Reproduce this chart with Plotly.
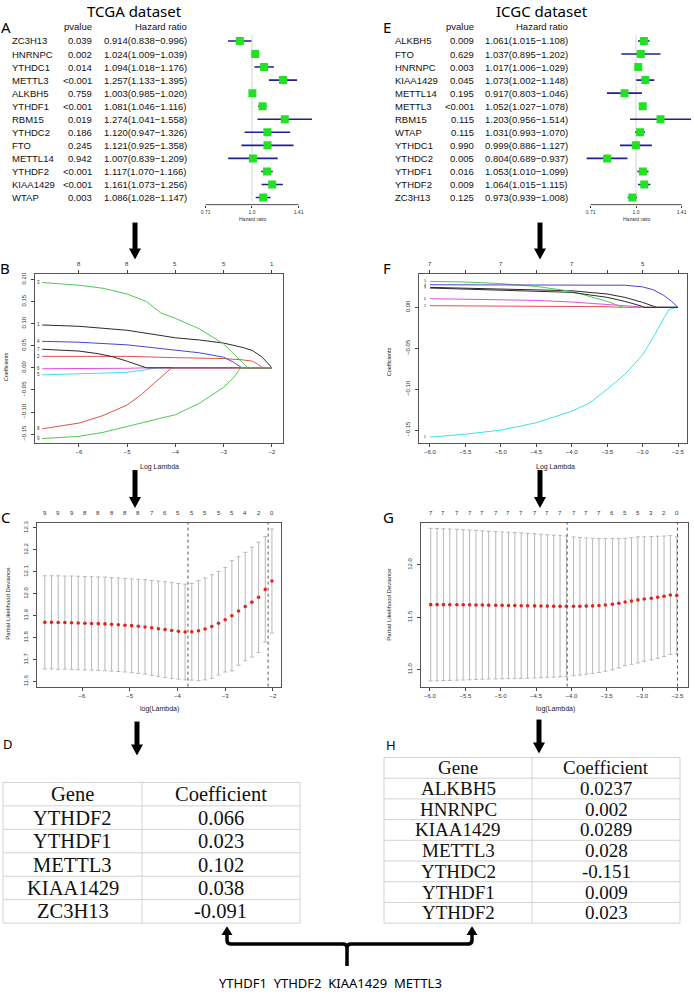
import plotly.graph_objects as go

# ================= DATA =================
# Panel A - TCGA univariate Cox
tcga_genes = ["ZC3H13", "HNRNPC", "YTHDC1", "METTL3", "ALKBH5", "YTHDF1", "RBM15",
              "YTHDC2", "FTO", "METTL14", "YTHDF2", "KIAA1429", "WTAP"]
tcga_p = ["0.039", "0.002", "0.014", "<0.001", "0.759", "<0.001", "0.019",
          "0.186", "0.245", "0.942", "<0.001", "<0.001", "0.003"]
tcga_hr = [0.914, 1.024, 1.094, 1.257, 1.003, 1.081, 1.274, 1.120, 1.121, 1.007, 1.117, 1.161, 1.086]
tcga_lo = [0.838, 1.009, 1.018, 1.133, 0.985, 1.046, 1.041, 0.947, 0.925, 0.839, 1.070, 1.073, 1.028]
tcga_hi = [0.996, 1.039, 1.176, 1.395, 1.020, 1.116, 1.558, 1.326, 1.358, 1.209, 1.166, 1.256, 1.147]

# Panel E - ICGC univariate Cox
icgc_genes = ["ALKBH5", "FTO", "HNRNPC", "KIAA1429", "METTL14", "METTL3", "RBM15",
              "WTAP", "YTHDC1", "YTHDC2", "YTHDF1", "YTHDF2", "ZC3H13"]
icgc_p = ["0.009", "0.629", "0.003", "0.045", "0.195", "<0.001", "0.115",
          "0.115", "0.990", "0.005", "0.016", "0.009", "0.125"]
icgc_hr = [1.061, 1.037, 1.017, 1.073, 0.917, 1.052, 1.203, 1.031, 0.999, 0.804, 1.053, 1.064, 0.973]
icgc_lo = [1.015, 0.895, 1.006, 1.002, 0.803, 1.027, 0.956, 0.993, 0.886, 0.689, 1.010, 1.015, 0.939]
icgc_hi = [1.108, 1.202, 1.029, 1.148, 1.046, 1.078, 1.514, 1.070, 1.127, 0.937, 1.099, 1.115, 1.008]

hr_ticks = [0.71, 1.0, 1.41]

# Panel B - TCGA LASSO coefficient paths (log lambda, coefficient)
b1_lam = [-6.76, -6.0, -5.0, -4.5, -4.0, -3.5, -3.0, -2.6, -2.4, -2.2, -2.1, -2.0]
b1_coef = [0.097, 0.094, 0.085, 0.077, 0.068, 0.063, 0.056, 0.046, 0.039, 0.024, 0.013, 0.0]
b2_lam = [-6.76, -5.0, -4.0, -3.0, -2.6, -2.4, -2.3, -2.19, -2.0]
b2_coef = [0.026, 0.026, 0.023, 0.021, 0.018, 0.015, 0.009, 0.0, 0.0]
b3_lam = [-6.76, -6.5, -6.0, -5.5, -5.0, -4.6, -4.3, -4.0, -3.5, -3.0, -2.75, -2.5, -2.0]
b3_coef = [0.193, 0.191, 0.187, 0.180, 0.167, 0.150, 0.124, 0.112, 0.088, 0.054, 0.028, 0.0, 0.0]
b4_lam = [-6.76, -6.0, -5.0, -4.5, -4.0, -3.5, -3.0, -2.8, -2.62, -2.0]
b4_coef = [0.060, 0.058, 0.052, 0.046, 0.041, 0.034, 0.024, 0.013, 0.0, 0.0]
b5_lam = [-6.76, -6.0, -5.0, -4.6, -4.4, -2.0]
b5_coef = [-0.016, -0.014, -0.010, -0.004, 0.0, 0.0]
b6_lam = [-6.76, -6.0, -5.0, -4.6, -2.0]
b6_coef = [-0.002, -0.002, -0.001, 0.0, 0.0]
b7_lam = [-6.76, -6.0, -5.6, -5.3, -5.0, -4.8, -4.6, -2.0]
b7_coef = [0.042, 0.038, 0.032, 0.025, 0.015, 0.007, 0.0, 0.0]
b8_lam = [-6.76, -6.5, -6.0, -5.5, -5.0, -4.7, -4.5, -4.3, -4.15, -4.08, -2.0]
b8_coef = [-0.138, -0.133, -0.125, -0.108, -0.084, -0.060, -0.041, -0.022, -0.006, 0.0, 0.0]
b9_lam = [-6.76, -6.0, -5.5, -5.0, -4.6, -4.3, -4.0, -3.5, -3.0, -2.8, -2.65, -2.0]
b9_coef = [-0.160, -0.155, -0.146, -0.133, -0.122, -0.115, -0.106, -0.080, -0.044, -0.023, 0.0, 0.0]
b_top_lam = [-6, -5, -4, -3, -2]
b_top_df = ["8", "8", "5", "5", "1"]

# Panel F - ICGC LASSO coefficient paths
f1_lam = [-6.0, -5.0, -4.5, -4.0, -3.5, -3.25, -3.0, -2.8, -2.5]
f1_coef = [0.0244, 0.0228, 0.0215, 0.0203, 0.0163, 0.0122, 0.0061, 0.0, 0.0]
f2_lam = [-6.0, -4.5, -4.0, -3.5, -3.3, -2.5]
f2_coef = [0.0020, 0.0018, 0.0015, 0.0008, 0.0, 0.0]
f3_lam = [-6.0, -5.5, -5.0, -4.5, -4.0, -3.75, -3.5, -3.35, -3.27, -2.5]
f3_coef = [0.0317, 0.0310, 0.0290, 0.0256, 0.0195, 0.0134, 0.0073, 0.0024, 0.0, 0.0]
f4_lam = [-6.0, -4.0, -3.5, -3.25, -3.0, -2.85, -2.7, -2.6, -2.5]
f4_coef = [0.0276, 0.0276, 0.0276, 0.0270, 0.0250, 0.0215, 0.0146, 0.0080, 0.0]
f5_lam = [-6.0, -5.5, -5.0, -4.5, -4.0, -3.75, -3.5, -3.25, -3.0, -2.85, -2.7, -2.62, -2.5]
f5_coef = [-0.1585, -0.155, -0.150, -0.141, -0.127, -0.117, -0.100, -0.082, -0.058, -0.037, -0.013, -0.002, 0.0]
f6_lam = [-6.0, -5.0, -4.5, -4.0, -3.5, -3.25, -3.0, -2.95, -2.5]
f6_coef = [0.0106, 0.0098, 0.0085, 0.0065, 0.0040, 0.0020, 0.0004, 0.0, 0.0]
f7_lam = [-6.0, -4.5, -4.0, -3.5, -3.25, -3.0, -2.98, -2.5]
f7_coef = [0.0236, 0.0203, 0.0183, 0.0122, 0.0073, 0.0012, 0.0, 0.0]
f_top_lam = [-6, -5, -4, -3]
f_top_df = ["7", "7", "7", "5"]

# Panel C - TCGA cross-validation
c_lam = [-6.78, -6.64, -6.50, -6.36, -6.22, -6.08, -5.94, -5.80, -5.66, -5.52, -5.38, -5.24,
         -5.10, -4.96, -4.82, -4.68, -4.54, -4.40, -4.26, -4.12, -3.98, -3.84, -3.70, -3.56,
         -3.42, -3.28, -3.14, -3.00, -2.86, -2.72, -2.58, -2.44, -2.30, -2.16, -2.02]
c_mean = [11.870, 11.870, 11.869, 11.869, 11.868, 11.867, 11.866, 11.865, 11.864, 11.863,
          11.861, 11.859, 11.857, 11.855, 11.852, 11.849, 11.845, 11.841, 11.837, 11.833,
          11.829, 11.826, 11.827, 11.832, 11.840, 11.851, 11.866, 11.882, 11.900, 11.922,
          11.942, 11.962, 11.984, 12.020, 12.058]
c_se = [0.212, 0.212, 0.213, 0.212, 0.213, 0.213, 0.213, 0.213, 0.213, 0.213,
        0.213, 0.213, 0.213, 0.213, 0.214, 0.215, 0.216, 0.217, 0.218, 0.218,
        0.218, 0.218, 0.220, 0.228, 0.232, 0.236, 0.236, 0.238, 0.251, 0.247,
        0.247, 0.250, 0.251, 0.240, 0.237]
c_top_df = ["9", "9", "9", "8", "8", "8", "8", "8", "7", "6", "5", "5", "5", "5", "5", "4", "2", "0"]
c_lam_lines = [-3.78, -2.10]

# Panel G - ICGC cross-validation
g_lam = [-5.99, -5.90, -5.81, -5.72, -5.62, -5.53, -5.44, -5.35, -5.26, -5.17, -5.07, -4.98,
         -4.89, -4.80, -4.71, -4.62, -4.52, -4.43, -4.34, -4.25, -4.16, -4.07, -3.97, -3.88,
         -3.79, -3.70, -3.61, -3.52, -3.42, -3.33, -3.24, -3.15, -3.06, -2.97, -2.87, -2.78,
         -2.69, -2.60, -2.51]
g_mean = [11.620, 11.620, 11.620, 11.619, 11.619, 11.618, 11.618, 11.617, 11.616, 11.615,
          11.614, 11.613, 11.612, 11.611, 11.610, 11.609, 11.608, 11.607, 11.606, 11.605,
          11.604, 11.604, 11.604, 11.605, 11.606, 11.608, 11.612, 11.617, 11.624, 11.633,
          11.645, 11.655, 11.665, 11.673, 11.681, 11.690, 11.700, 11.712, 11.707]
g_se = [0.728, 0.726, 0.724, 0.722, 0.720, 0.717, 0.714, 0.711, 0.708, 0.705,
        0.702, 0.700, 0.698, 0.696, 0.694, 0.691, 0.688, 0.684, 0.680, 0.677,
        0.674, 0.671, 0.662, 0.656, 0.650, 0.645, 0.639, 0.633, 0.626, 0.617,
        0.608, 0.604, 0.601, 0.594, 0.588, 0.582, 0.574, 0.566, 0.559]
g_top_df = ["7", "7", "7", "7", "7", "7", "7", "7", "7", "7", "7", "7", "7", "7",
            "6", "5", "5", "3", "2", "0"]
g_lam_lines = [-4.06, -2.50]

# Panel D / H tables
d_genes = ["YTHDF2", "YTHDF1", "METTL3", "KIAA1429", "ZC3H13"]
d_coef = [0.066, 0.023, 0.102, 0.038, -0.091]
h_genes = ["ALKBH5", "HNRNPC", "KIAA1429", "METTL3", "YTHDC2", "YTHDF1", "YTHDF2"]
h_coef = [0.0237, 0.002, 0.0289, 0.028, -0.151, 0.009, 0.023]
common_genes = ["YTHDF1", "YTHDF2", "KIAA1429", "METTL3"]

# ================= HELPERS =================
W, H = 694, 992


def X(p):
    return p / W


def Y(p):
    return 1 - p / H


R_PAL = ["#2a2a2a", "#e2504b", "#4fc94f", "#4646d2", "#3fe3e3", "#e24fe2"]
SANS = "Liberation Sans"
TF = dict(family=SANS, size=6, color="#333")

fig = go.Figure()
annotations = []
shapes = []


def ann(x, y, text, size, xanchor="center", yanchor="middle", xref="paper", yref="paper",
        family=SANS, color="#111", angle=0):
    annotations.append(dict(x=x, y=y, text=text, xref=xref, yref=yref, showarrow=False,
                            xanchor=xanchor, yanchor=yanchor, textangle=angle,
                            font=dict(family=family, size=size, color=color)))


# ================= FOREST PLOTS (A, E) =================
def forest(genes, pv, hr, lo, hi, xa, ya, xg, xp, xh, label, lx, title, tx):
    rows = list(range(len(genes)))
    fig.add_trace(go.Scatter(x=[1.0, 1.0], y=[-0.46, 12.3], mode="lines",
                             line=dict(color="#d4d4d4", width=1), xaxis=xa, yaxis=ya,
                             hoverinfo="skip"))
    xs, ys = [], []
    for i, (l, h) in enumerate(zip(lo, hi)):
        xs += [l, h, None]
        ys += [i, i, None]
    fig.add_trace(go.Scatter(x=xs, y=ys, mode="lines", line=dict(color="#1d2290", width=1.6),
                             xaxis=xa, yaxis=ya, hoverinfo="skip"))
    fig.add_trace(go.Scatter(x=hr, y=rows, mode="markers",
                             marker=dict(symbol="square", size=8, color="#22e022"),
                             xaxis=xa, yaxis=ya, hoverinfo="skip"))
    fig.add_trace(go.Scatter(x=[min(hr_ticks), max(hr_ticks)], y=[12.55, 12.55], mode="lines",
                             line=dict(color="#333", width=1), xaxis=xa, yaxis=ya,
                             hoverinfo="skip"))
    for i, g in enumerate(genes):
        ann(X(xg), i, g, 9.5, xanchor="left", yref=ya)
        ann(X(xp), i, pv[i], 9.5, xanchor="right", yref=ya)
        ann(X(xh), i, f"{hr[i]:.3f}({lo[i]:.3f}\u2212{hi[i]:.3f})", 9.5, xanchor="right", yref=ya)
    ann(X(xp), Y(25), "pvalue", 9.5, xanchor="right")
    ann(X(xh), Y(25), "Hazard ratio", 9.5, xanchor="right")
    ann(X(lx), Y(25), label, 15, family="Noto Sans", color="#000")
    ann(X(tx), Y(9), title, 15, family="Noto Sans", color="#000")


forest(tcga_genes, tcga_p, tcga_hr, tcga_lo, tcga_hi, "x", "y", 10, 94, 189, "A", 6, "TCGA dataset", 134)
forest(icgc_genes, icgc_p, icgc_hr, icgc_lo, icgc_hi, "x2", "y2", 393, 476, 570, "E", 387, "ICGC dataset", 542)
ann(X(252), Y(217), "Hazard ratio", 5, color="#333")
ann(X(636), Y(217), "Hazard ratio", 5, color="#333")

forest_x = dict(type="log", tickvals=hr_ticks, ticktext=[f"{v:.2f}" if v != 1.0 else "1.0" for v in hr_ticks],
                ticks="outside", ticklen=2, tickwidth=1, tickcolor="#333", showline=False,
                showgrid=False, zeroline=False, tickfont=dict(family=SANS, size=5, color="#333"))
forest_y = dict(range=[12.6, -0.6], visible=False, showgrid=False, zeroline=False)

# ================= LASSO PATHS (B, F) =================
b_curves = [(1, b1_lam, b1_coef), (2, b2_lam, b2_coef), (3, b3_lam, b3_coef),
            (4, b4_lam, b4_coef), (5, b5_lam, b5_coef), (6, b6_lam, b6_coef),
            (7, b7_lam, b7_coef), (8, b8_lam, b8_coef), (9, b9_lam, b9_coef)]
f_curves = [(1, f1_lam, f1_coef), (2, f2_lam, f2_coef), (3, f3_lam, f3_coef),
            (4, f4_lam, f4_coef), (5, f5_lam, f5_coef), (6, f6_lam, f6_coef),
            (7, f7_lam, f7_coef)]


def paths(curves, xa, ya, label_x, lsize):
    for v, lam, coef in curves:
        fig.add_trace(go.Scatter(x=lam, y=coef, mode="lines",
                                 line=dict(color=R_PAL[(v - 1) % 6], width=1),
                                 xaxis=xa, yaxis=ya, hoverinfo="skip"))
        ann(label_x, coef[0], str(v), lsize, xref=xa, yref=ya, color="#333")


paths(b_curves, "x3", "y3", -6.84, 4.5)
paths(f_curves, "x4", "y4", -6.075, 3.5)
for lam, df in zip(b_top_lam, b_top_df):
    ann(lam, Y(263), df, 6, xref="x3", color="#333")
for lam, df in zip(f_top_lam, f_top_df):
    ann(lam, Y(263), df, 6, xref="x4", color="#333")

ann(X(6), Y(366), "Coefficients", 5.5, angle=-90, color="#222")
ann(X(159), Y(466), "Log Lambda", 7, color="#222")
ann(X(389), Y(360), "Coefficients", 5.5, angle=-90, color="#222")
ann(X(555), Y(466), "Log Lambda", 7, color="#222")
ann(X(5), Y(267), "B", 15, family="Noto Sans", color="#000")
ann(X(387), Y(267), "F", 15, family="Noto Sans", color="#000")


# ================= CV PLOTS (C, G) =================
def cvplot(lam, mean, se, top, lines, xa, ya):
    fig.add_trace(go.Scatter(x=lam, y=mean, mode="markers",
                             marker=dict(color="#e3231e", size=3.6),
                             error_y=dict(type="data", array=se, color="#b8b8b8",
                                          thickness=1, width=2),
                             xaxis=xa, yaxis=ya, hoverinfo="skip"))
    for l, df in zip(lam[0::2], top):
        ann(l, Y(512), df, 6, xref=xa, color="#333")
    for l in lines:
        shapes.append(dict(type="line", xref=xa, yref=ya + " domain", x0=l, x1=l, y0=0, y1=1,
                           line=dict(color="#555", width=1, dash="dot")))


cvplot(c_lam, c_mean, c_se, c_top_df, c_lam_lines, "x5", "y5")
cvplot(g_lam, g_mean, g_se, g_top_df, g_lam_lines, "x6", "y6")
ann(X(8), Y(603), "Partial Likelihood Deviance", 6, angle=-90, color="#222")
ann(X(159), Y(708), "log(Lambda)", 7, color="#222")
ann(X(389), Y(603), "Partial Likelihood Deviance", 6, angle=-90, color="#222")
ann(X(555), Y(708), "log(Lambda)", 7, color="#222")
ann(X(6), Y(516), "C", 15, family="Noto Sans", color="#000")
ann(X(388), Y(516), "G", 15, family="Noto Sans", color="#000")


# ================= TABLES (D, H) =================
def table(genes, coefs, x0, xdiv, x1, y0, rowh, size):
    rows = [("Gene", "Coefficient")] + list(zip(genes, [str(c) for c in coefs]))
    n = len(rows)
    lc = dict(color="#d2d2d2", width=1)
    for k in range(n + 1):
        shapes.append(dict(type="line", xref="paper", yref="paper", x0=X(x0), x1=X(x1),
                           y0=Y(y0 + k * rowh), y1=Y(y0 + k * rowh), line=lc))
    for xv in (x0, xdiv, x1):
        shapes.append(dict(type="line", xref="paper", yref="paper", x0=X(xv), x1=X(xv),
                           y0=Y(y0), y1=Y(y0 + n * rowh), line=lc))
    for k, (g, c) in enumerate(rows):
        yc = Y(y0 + (k + 0.5) * rowh)
        ann(X((x0 + xdiv) / 2), yc, g, size, family="Liberation Serif", color="#111")
        ann(X((xdiv + x1) / 2), yc, c, size, family="Liberation Serif", color="#111")


table(d_genes, d_coef, 3, 142, 300, 782, 23.5, 20.5)
table(h_genes, h_coef, 384, 532, 680, 757, 20.75, 19)
ann(X(8), Y(743), "D", 13, family="Noto Sans", color="#000")
ann(X(391), Y(744), "H", 13, family="Noto Sans", color="#000")


# ================= ARROWS & BRACKET =================
def P(x, y):
    return f"{X(x):.5f},{Y(y):.5f}"


def down_arrow(x, y0, y1, shaft=5, hw=6, hl=11):
    shapes.append(dict(type="rect", xref="paper", yref="paper", x0=X(x - shaft / 2), x1=X(x + shaft / 2),
                       y0=Y(y1 - hl + 1), y1=Y(y0), fillcolor="black", line=dict(width=0)))
    shapes.append(dict(type="path", xref="paper", yref="paper",
                       path=f"M {P(x - hw, y1 - hl)} L {P(x + hw, y1 - hl)} L {P(x, y1)} Z",
                       fillcolor="black", line=dict(width=0)))


def up_head(x, ytip, hw=5.5, hl=9):
    shapes.append(dict(type="path", xref="paper", yref="paper",
                       path=f"M {P(x - hw, ytip + hl)} L {P(x + hw, ytip + hl)} L {P(x, ytip)} Z",
                       fillcolor="black", line=dict(width=0)))


for ax_, a0, a1 in [(135, 221, 258), (540, 221, 258), (135, 469, 507), (540, 469, 507),
                    (137, 721, 755), (539, 719, 753)]:
    down_arrow(ax_, a0, a1)

bl, br, bc, by, btip = 227, 472, 347, 944, 926
shapes.append(dict(type="path", xref="paper", yref="paper",
                   path=(f"M {P(bl, btip + 8)} L {P(bl, by - 4)} Q {P(bl, by)} {P(bl + 4, by)} "
                         f"L {P(bc - 4, by)} Q {P(bc, by)} {P(bc, by + 4)} L {P(bc, 966)} "
                         f"M {P(bc, by + 4)} Q {P(bc, by)} {P(bc + 4, by)} "
                         f"L {P(br - 4, by)} Q {P(br, by)} {P(br, by - 4)} L {P(br, btip + 8)}"),
                   line=dict(color="black", width=3.5)))
up_head(bl, btip)
up_head(br, btip)
ann(X(330), Y(983), "\u00a0 ".join(common_genes), 13, family="Noto Sans", color="#000")


# ================= LAYOUT =================
def rx(dom, rng, tv, fmt, mirror, anchor):
    return dict(domain=dom, range=rng, tickvals=tv, tickformat=fmt, ticks="outside", ticklen=3,
                tickwidth=1, tickcolor="#444", showline=True, linecolor="#555", linewidth=1,
                mirror=mirror, showgrid=False, zeroline=False, tickfont=TF, anchor=anchor)


def ry(dom, rng, tv, fmt, anchor):
    return dict(domain=dom, range=rng, tickvals=tv, tickformat=fmt, ticks="outside", ticklen=3,
                tickwidth=1, tickcolor="#444", showline=True, linecolor="#555", linewidth=1,
                mirror=True, showgrid=False, zeroline=False, tickfont=TF, anchor=anchor,
                tickangle=-90, ticklabelstandoff=3)


layout = dict(
    width=W, height=H, margin=dict(l=0, r=0, t=0, b=0), showlegend=False,
    paper_bgcolor="white", plot_bgcolor="white",
    xaxis=dict(forest_x, domain=[X(195), X(320)], range=[-0.1827, 0.218], anchor="y"),
    yaxis=dict(forest_y, domain=[Y(203.8), Y(31.2)], anchor="x"),
    xaxis2=dict(forest_x, domain=[X(575), 1.0], range=[-0.200, 0.190], anchor="y2"),
    yaxis2=dict(forest_y, domain=[Y(203.8), Y(31.2)], anchor="x2"),
    xaxis3=rx([X(35), X(283)], [-6.91, -1.77], [-6, -5, -4, -3, -2], "d", "ticks", "y3"),
    yaxis3=ry([Y(442), Y(273)], [-0.1703, 0.2113], [-0.15, -0.10, -0.05, 0.0, 0.05, 0.10, 0.15, 0.20], ".2f", "x3"),
    xaxis4=rx([X(419), X(687)], [-6.155, -2.373], [-6.0, -5.5, -5.0, -4.5, -4.0, -3.5, -3.0, -2.5], ".1f", "ticks", "y4"),
    yaxis4=ry([Y(442), Y(273)], [-0.1659, 0.0402], [-0.15, -0.10, -0.05, 0.0], ".2f", "x4"),
    xaxis5=rx([X(37), X(281)], [-6.944, -1.830], [-6, -5, -4, -3, -2], "d", True, "y5"),
    yaxis5=ry([Y(686), Y(522)], [11.5773, 12.3227], [11.6, 11.7, 11.8, 11.9, 12.0, 12.1, 12.2, 12.3], ".1f", "x5"),
    xaxis6=rx([X(421), X(688)], [-6.127, -2.351], [-6.0, -5.5, -5.0, -4.5, -4.0, -3.5, -3.0, -2.5], ".1f", True, "y6"),
    yaxis6=ry([Y(686), Y(522)], [10.838, 12.399], [11.0, 11.5, 12.0], ".1f", "x6"),
    annotations=annotations, shapes=shapes,
)
fig.update_layout(**layout)
fig.write_html("out.html", config={"displayModeBar": False},
               post_script="document.body.style.margin='0';document.body.style.overflow='hidden';")
